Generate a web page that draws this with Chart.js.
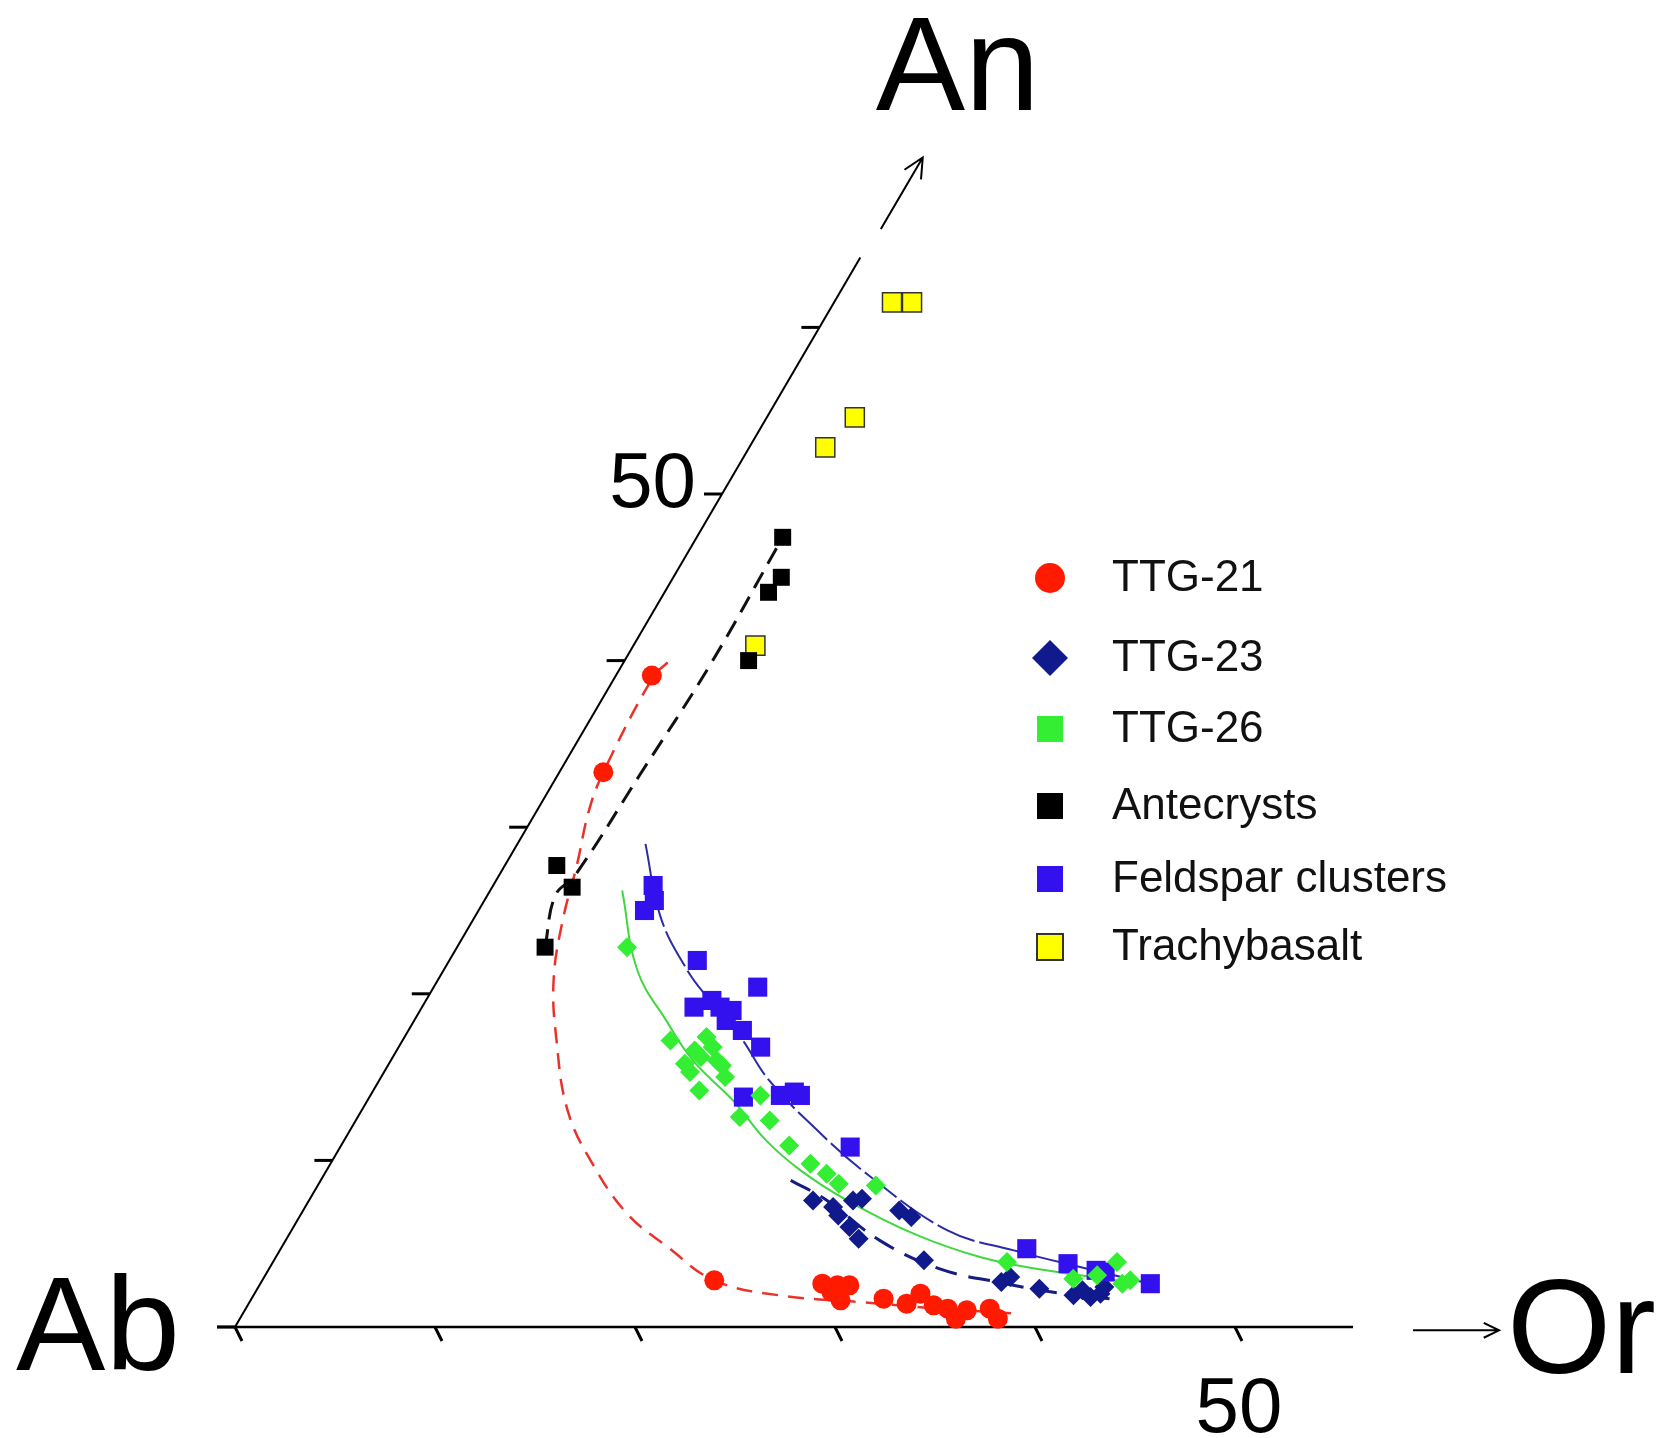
<!DOCTYPE html>
<html>
<head>
<meta charset="utf-8">
<title>Ab-An-Or feldspar diagram</title>
<script src="https://cdn.jsdelivr.net/npm/chart.js@4.4.0/dist/chart.umd.min.js"></script>
<style>
  html, body { margin: 0; padding: 0; background: #fff; }
  canvas { display: block; }
</style>
</head>
<body>
<canvas id="ternary" width="1663" height="1438"></canvas>
<script>
// Feldspar compositions, each point is [Or, An] in mol %
const ttg21 = [[1.8, 39.1], [2.2, 33.3], [22.6, 2.8], [28.1, 2.6], [28.9, 2.5], [29.5, 2.5], [28.8, 2.1],
    [29.5, 1.6], [31.6, 1.7], [32.9, 1.4], [33.3, 2.0], [34.3, 1.3], [35.1, 1.1], [35.8, 0.5],
    [36.1, 1.0], [37.2, 1.1], [37.9, 0.5]];
const ttg23 = [[25.2, 7.6], [26.4, 7.2], [26.9, 6.7], [27.2, 7.6], [27.6, 7.7], [27.8, 6.0], [28.6, 5.3],
    [29.8, 7.0], [30.6, 6.6], [32.5, 4.0], [37.0, 2.7], [37.3, 3.0], [39.1, 2.3], [41.0, 1.9],
    [41.3, 2.2], [41.9, 1.8], [42.3, 2.0], [42.3, 2.4]];
const ttg26 = [[8.5, 22.8], [13.4, 17.2], [15.1, 17.4], [15.7, 16.8], [15.4, 16.2], [16.3, 16.0], [15.3, 15.3],
    [14.9, 16.6], [14.8, 15.8], [16.7, 15.7], [16.3, 14.2], [17.2, 15.0], [19.5, 13.9], [19.1, 12.6],
    [20.7, 12.4], [22.4, 10.9], [24.0, 9.8], [25.1, 9.2], [26.0, 8.6], [27.9, 8.5], [36.7, 3.9],
    [40.5, 2.9], [41.6, 3.1], [42.2, 3.9], [43.1, 2.6], [43.4, 2.8]];
const antecrysts = [[4.3, 47.4], [5.4, 45.0], [5.2, 44.1], [6.2, 40.0], [2.6, 27.7], [4.0, 26.4], [4.4, 22.8]];
const feldsparClusters = [[8.0, 26.5], [8.5, 25.6], [8.3, 25.0], [12.4, 22.0], [16.2, 20.4], [13.6, 19.2],
    [14.3, 19.6], [14.9, 19.2], [15.6, 19.0], [15.6, 18.4], [16.7, 17.8], [18.1, 16.8], [18.7, 13.8],
    [20.5, 13.9], [21.1, 14.1], [21.5, 13.9], [25.5, 10.8], [37.3, 4.7], [39.8, 3.8], [41.4, 3.4],
    [41.9, 3.3], [44.5, 2.6]];
const trachybasalt = [[2.9, 61.5], [3.9, 61.5], [4.4, 54.6], [3.8, 52.8], [6.1, 40.9]];

// Trend curves through each group, [Or, An]
const ttg21Trend = [[2.2, 39.9], [1.9, 39.0], [2.2, 33.3], [2.6, 31.0], [3.6, 27.7], [4.5, 24.4], [5.8, 20.8],
    [7.7, 17.2], [10.3, 13.0], [13.1, 9.8], [16.3, 6.8], [19.3, 4.8], [22.6, 2.8], [26.3, 1.9],
    [30.5, 1.5], [34.7, 1.1], [38.8, 0.8]];
const ttg23Trend = [[23.5, 8.8], [25.9, 7.6], [29.7, 5.2], [33.5, 3.5], [36.8, 2.7], [40.4, 2.0], [42.9, 1.7]];
const ttg26Trend = [[6.6, 26.2], [9.7, 21.4], [12.7, 18.3], [15.1, 16.0], [18.4, 13.5], [21.1, 11.2],
    [23.7, 9.4], [26.9, 7.6], [31.2, 5.6], [35.2, 4.2], [38.9, 3.4], [43.4, 2.7]];
const antecrystTrend = [[4.4, 22.8], [3.4, 25.9], [3.8, 27.1], [4.1, 33.1], [4.4, 39.7], [4.3, 47.4]];
const feldsparTrend = [[6.4, 29.0], [9.3, 24.6], [12.2, 21.4], [14.2, 19.6], [16.8, 17.4], [19.5, 14.8],
    [23.1, 12.0], [27.1, 9.2], [32.8, 5.8], [36.7, 4.6], [40.5, 3.6], [44.5, 2.6]];

// Axis ticks
const anTicks = [0, 10, 20, 30, 40, 50, 60];
const orTicks = [0, 10, 20, 30, 40, 50];
const labelledTick = 50;

const legendNames = ['TTG-21', 'TTG-23', 'TTG-26', 'Antecrysts', 'Feldspar clusters', 'Trachybasalt'];

// The An axis leans at ~60 degrees; its unit vector in x/y chart units
const AN_DX = 0.487;
const AN_DY = 0.833;

function toXY(p) {
    return { x: p[0] + p[1] * AN_DX, y: p[1] * AN_DY };
}

function pointSet(label, data, style, radius, color, border) {
    return {
        label: label,
        data: data.map(toXY),
        pointStyle: style,
        pointRadius: radius,
        pointHoverRadius: radius,
        backgroundColor: color,
        borderColor: border || color,
        borderWidth: border ? 1.5 : 0,
        showLine: false,
        order: 1
    };
}

function trendSet(data, color, width, dash) {
    return {
        label: '',
        data: data.map(toXY),
        showLine: true,
        pointRadius: 0,
        borderColor: color,
        borderWidth: width,
        borderDash: dash,
        tension: 0.4,
        fill: false,
        order: 2
    };
}

const FONT = '"Liberation Sans", Arial, Helvetica, sans-serif';

function arrow(ctx, x1, y1, x2, y2, head) {
    const a = Math.atan2(y2 - y1, x2 - x1);
    ctx.beginPath();
    ctx.moveTo(x1, y1);
    ctx.lineTo(x2, y2);
    ctx.moveTo(x2 - head * Math.cos(a - 0.45), y2 - head * Math.sin(a - 0.45));
    ctx.lineTo(x2, y2);
    ctx.lineTo(x2 - head * Math.cos(a + 0.45), y2 - head * Math.sin(a + 0.45));
    ctx.stroke();
}

// Draws the two oblique ternary axes, their ticks and the corner labels
const ternaryAxes = {
    id: 'ternaryAxes',
    beforeDatasetsDraw(chart) {
        const ctx = chart.ctx;
        const xs = chart.scales.x, ys = chart.scales.y;
        const px = (or, an) => [xs.getPixelForValue(or + an * AN_DX), ys.getPixelForValue(an * AN_DY)];
        ctx.save();
        ctx.strokeStyle = '#000';
        ctx.fillStyle = '#000';

        // Ab -> Or base
        let a = px(0, 0), b = px(55.9, 0);
        ctx.lineWidth = 2.5;
        ctx.beginPath();
        ctx.moveTo(a[0] - 18, a[1]);
        ctx.lineTo(b[0], b[1]);
        ctx.stroke();
        ctx.lineWidth = 3;
        orTicks.forEach(t => {
            const p = px(t, 0);
            ctx.beginPath();
            ctx.moveTo(p[0], p[1]);
            ctx.lineTo(p[0] + 7, p[1] + 14);
            ctx.stroke();
        });

        // Ab -> An side
        b = px(0, 64.2);
        ctx.lineWidth = 2;
        ctx.beginPath();
        ctx.moveTo(a[0], a[1]);
        ctx.lineTo(b[0], b[1]);
        ctx.stroke();
        ctx.lineWidth = 3;
        anTicks.forEach(t => {
            const p = px(0, t);
            ctx.beginPath();
            ctx.moveTo(p[0], p[1]);
            ctx.lineTo(p[0] - 18, p[1]);
            ctx.stroke();
        });
        ctx.lineWidth = 2;
        const s = px(0.2, 65.9), e = px(0.2, 70.2);
        arrow(ctx, s[0], s[1], e[0], e[1], 22);
        const o1 = px(59.0, -0.2), o2 = px(63.3, -0.2);
        arrow(ctx, o1[0], o1[1], o2[0], o2[1], 17);

        // tick numbers
        ctx.font = '78px ' + FONT;
        ctx.textBaseline = 'alphabetic';
        let p = px(0, labelledTick);
        ctx.textAlign = 'right';
        ctx.fillText(String(labelledTick), p[0] - 26, p[1] + 13);
        p = px(labelledTick, 0);
        ctx.textAlign = 'center';
        ctx.fillText(String(labelledTick), p[0] + 4, p[1] + 105);

        // corner names
        ctx.font = '134px ' + FONT;
        p = px(0, 0);
        ctx.textAlign = 'right';
        ctx.fillText('Ab', p[0] - 55, p[1] + 43);
        p = px(63.3, 0);
        ctx.textAlign = 'left';
        ctx.fillText('Or', p[0] + 6, p[1] + 46);
        p = px(0.2, 70.2);
        ctx.fillText('An', p[0] - 47, p[1] - 47);
        ctx.restore();
    }
};

// Legend block on the right of the diagram
const sideLegend = {
    id: 'sideLegend',
    afterDraw(chart) {
        const ctx = chart.ctx;
        const rows = [578, 658, 729, 806, 879, 947];
        const mx = 1050;
        ctx.save();
        rows.forEach((y, i) => {
            ctx.beginPath();
            if (i === 0) {
                ctx.fillStyle = '#ff1a00';
                ctx.arc(mx, y, 15, 0, Math.PI * 2);
                ctx.fill();
            } else if (i === 1) {
                ctx.fillStyle = '#101a8c';
                ctx.moveTo(mx - 18, y);
                ctx.lineTo(mx, y - 18);
                ctx.lineTo(mx + 18, y);
                ctx.lineTo(mx, y + 18);
                ctx.closePath();
                ctx.fill();
            } else {
                const fills = ['', '', '#33ee33', '#000000', '#3311ee', '#ffff00'];
                ctx.fillStyle = fills[i];
                ctx.fillRect(mx - 13, y - 13, 26, 26);
                if (i === 5) {
                    ctx.lineWidth = 2;
                    ctx.strokeStyle = '#333';
                    ctx.strokeRect(mx - 13, y - 13, 26, 26);
                }
            }
            ctx.fillStyle = '#111';
            ctx.font = '44px ' + FONT;
            ctx.textAlign = 'left';
            ctx.textBaseline = 'middle';
            ctx.fillText(legendNames[i], 1112, y + 1);
        });
        ctx.restore();
    }
};

new Chart(document.getElementById('ternary'), {
    type: 'scatter',
    data: {
        datasets: [
            trendSet(ttg21Trend, '#e8332a', 2.5, [16, 10]),
            trendSet(antecrystTrend, '#111111', 3, [18, 10]),
            trendSet(feldsparTrend, '#2b2ba8', 2, [40, 5]),
            trendSet(ttg26Trend, '#3fd83f', 2, []),
            trendSet(ttg23Trend, '#151d80', 3, [22, 12]),
            pointSet(legendNames[0], ttg21, 'circle', 10, '#ff1a00'),
            pointSet(legendNames[2], ttg26, 'rectRot', 10, '#33ee33'),
            pointSet(legendNames[4], feldsparClusters, 'rect', 13.5, '#3311ee'),
            pointSet(legendNames[1], ttg23, 'rectRot', 10, '#101a8c'),
            pointSet(legendNames[3], antecrysts, 'rect', 12, '#000000'),
            pointSet(legendNames[5], trachybasalt, 'rect', 13.5, '#ffff00', '#333333')
        ]
    },
    options: {
        responsive: false,
        animation: false,
        devicePixelRatio: 1,
        layout: { padding: 0, autoPadding: false },
        clip: false,
        plugins: {
            legend: { display: false },
            tooltip: { enabled: false }
        },
        scales: {
            x: { type: 'linear', min: -11.75, max: 71.4, display: false },
            y: { type: 'linear', min: -5.55, max: 66.35, display: false }
        }
    },
    plugins: [ternaryAxes, sideLegend]
});
</script>
</body>
</html>
